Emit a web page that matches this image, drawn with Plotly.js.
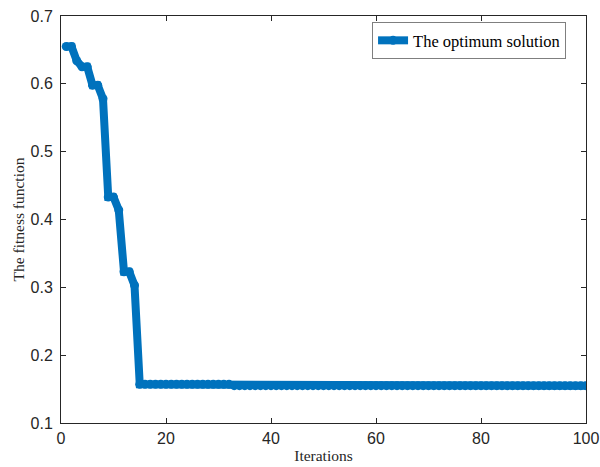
<!DOCTYPE html>
<html>
<head>
<meta charset="utf-8">
<script src="https://cdn.plot.ly/plotly-3.0.1.min.js"></script>
<style>html,body{margin:0;padding:0;background:#fff;}#chart{width:600px;height:467px;}</style>
</head>
<body>
<div id="chart"></div>
<script>
const iterations = [];
for (let i = 1; i <= 100; i++) iterations.push(i);

const earlyValues = [0.655, 0.655, 0.634, 0.625, 0.625, 0.598, 0.598, 0.578, 0.433, 0.433,
                     0.414, 0.323, 0.323, 0.303, 0.157];
const plateauHigh = 0.157;   // iterations 16..32
const plateauLow = 0.155;    // iterations 33..100

const fitness = earlyValues.slice();
for (let i = 16; i <= 32; i++) fitness.push(plateauHigh);
for (let i = 33; i <= 100; i++) fitness.push(plateauLow);

const seriesName = 'The optimum solution';
const xTitle = 'Iterations';
const yTitle = 'The fitness function';

const axisColor = '#262626';
const serif = 'Liberation Serif, Times New Roman, serif';
const axisBase = {
  showline: true, linecolor: axisColor, linewidth: 1, mirror: 'allticks',
  ticks: 'inside', ticklen: 5, tickcolor: axisColor, tickwidth: 1,
  showgrid: false, zeroline: false,
  tickfont: {family: 'Liberation Sans, Arial, sans-serif', size: 16, color: axisColor}
};

const trace = {
  x: iterations, y: fitness, name: seriesName, type: 'scatter', mode: 'lines+markers',
  line: {color: '#0072BD', width: 8},
  marker: {color: '#0072BD', size: 9, symbol: 'circle'}
};

const layout = {
  width: 600, height: 467,
  margin: {l: 61, r: 14, t: 16, b: 44},
  paper_bgcolor: '#fff', plot_bgcolor: '#fff',
  showlegend: true,
  legend: {
    x: 0.962, y: 0.985, xanchor: 'right', yanchor: 'top',
    bordercolor: '#7f7f7f', borderwidth: 1, bgcolor: '#fff',
    font: {family: serif, size: 16.5, color: '#000'},
    itemwidth: 30
  },
  xaxis: Object.assign({}, axisBase, {
    range: [0, 100], tickvals: [0, 20, 40, 60, 80, 100],
    ticklabelstandoff: 1,
    title: {text: xTitle, font: {family: serif, size: 15.5, color: axisColor}, standoff: 3}
  }),
  yaxis: Object.assign({}, axisBase, {
    range: [0.1, 0.7], tickvals: [0.1, 0.2, 0.3, 0.4, 0.5, 0.6, 0.7],
    ticktext: ['0.1', '0.2', '0.3', '0.4', '0.5', '0.6', '0.7'],
    ticklabelstandoff: 4,
    title: {text: yTitle, font: {family: serif, size: 15.5, color: axisColor}, standoff: 2}
  })
};

Plotly.newPlot('chart', [trace], layout, {displayModeBar: false, staticPlot: true});
</script>
</body>
</html>
